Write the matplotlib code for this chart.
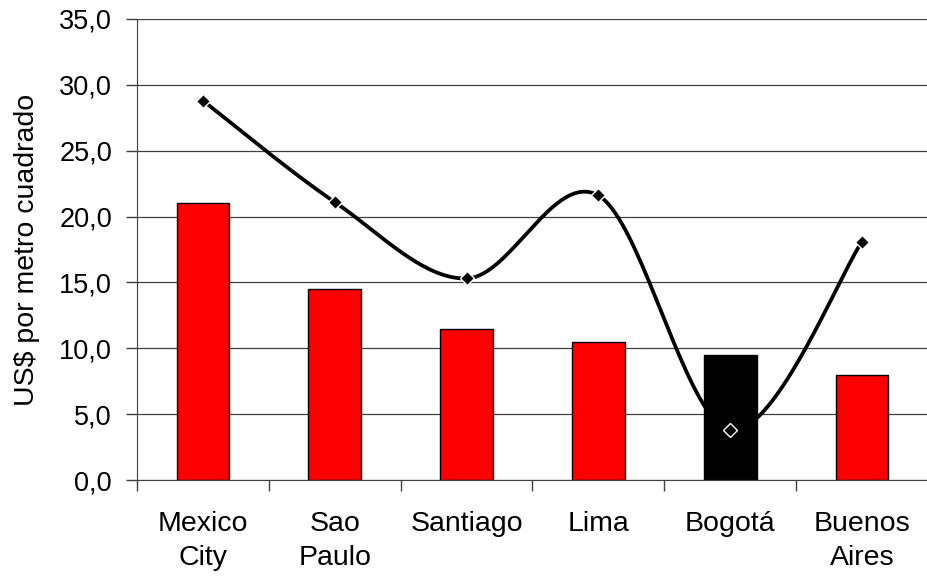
import numpy as np
import matplotlib.pyplot as plt
from matplotlib.ticker import FuncFormatter

plt.rcParams['font.family'] = ['Liberation Sans', 'DejaVu Sans']

cities = ["Mexico\nCity", "Sao\nPaulo", "Santiago", "Lima", "Bogotá", "Buenos\nAires"]
bar_vals = [21.0, 14.5, 11.5, 10.5, 9.5, 8.0]
line_vals = [28.8, 21.1, 15.3, 21.6, 3.8, 18.1]
bar_colors = ["#ff0000", "#ff0000", "#ff0000", "#ff0000", "#000000", "#ff0000"]

# smooth curve like Excel (cubic bezier / catmull-rom)
def smooth(x, y, n=40):
    x = np.asarray(x, float); y = np.asarray(y, float)
    px = np.concatenate([[x[0]], x, [x[-1]]])
    py = np.concatenate([[y[0]], y, [y[-1]]])
    xs, ys = [], []
    t = np.linspace(0, 1, n)
    for i in range(1, len(px) - 2):
        p0 = np.array([px[i], py[i]])
        p3 = np.array([px[i+1], py[i+1]])
        p1 = p0 + (np.array([px[i+1], py[i+1]]) - np.array([px[i-1], py[i-1]])) / 6
        p2 = p3 - (np.array([px[i+2], py[i+2]]) - np.array([px[i], py[i]])) / 6
        b = ((1-t)**3)[:, None]*p0 + (3*(1-t)**2*t)[:, None]*p1 + (3*(1-t)*t**2)[:, None]*p2 + (t**3)[:, None]*p3
        xs.append(b[:, 0]); ys.append(b[:, 1])
    return np.concatenate(xs), np.concatenate(ys)

fig = plt.figure(figsize=(9.28, 5.76), dpi=100)
ax = fig.add_axes([137/928, (576-480)/576, (928-137)/928, (480-19)/576])

x = np.arange(len(cities))
ax.bar(x, bar_vals, width=0.4, color=bar_colors, edgecolor="black", linewidth=1, zorder=2)
sx, sy = smooth(x, line_vals)
ax.plot(sx, sy, color="black", lw=2.7, zorder=3, solid_capstyle="round")
ax.plot(x, line_vals, ls="none", marker="D", ms=7.5, mfc="black", mec="white", mew=1, zorder=4)

ax.set_ylim(0, 35)
ax.set_xlim(-0.5, 5.5 - 7/133)
ax.set_yticks(np.arange(0, 35.1, 5))
ax.yaxis.set_major_formatter(FuncFormatter(lambda v, p: f"{v:.1f}".replace(".", ",")))
ax.grid(axis="y", color="#404040", lw=0.9, zorder=0)
ax.set_axisbelow(True)

ax.set_xticks(np.arange(-0.5, 5.6, 1))
ax.set_xticklabels([])
ax.set_xticks(x, minor=True)
ax.set_xticklabels(cities, minor=True, fontsize=20.5, linespacing=1.4)
ax.tick_params(axis="x", which="minor", length=0, pad=22)
ax.tick_params(axis="x", which="major", length=8, direction="out", width=1, color="#404040")
ax.tick_params(axis="y", length=8, direction="out", width=1, color="#404040", labelsize=19.5, pad=10)

for s in ["top", "right"]:
    ax.spines[s].set_visible(False)
ax.spines["left"].set_color("#404040")
ax.spines["bottom"].set_color("#404040")

ax.set_ylabel("US$ por metro cuadrado", fontsize=20.5, labelpad=14)

fig.savefig("out.png", dpi=100)
